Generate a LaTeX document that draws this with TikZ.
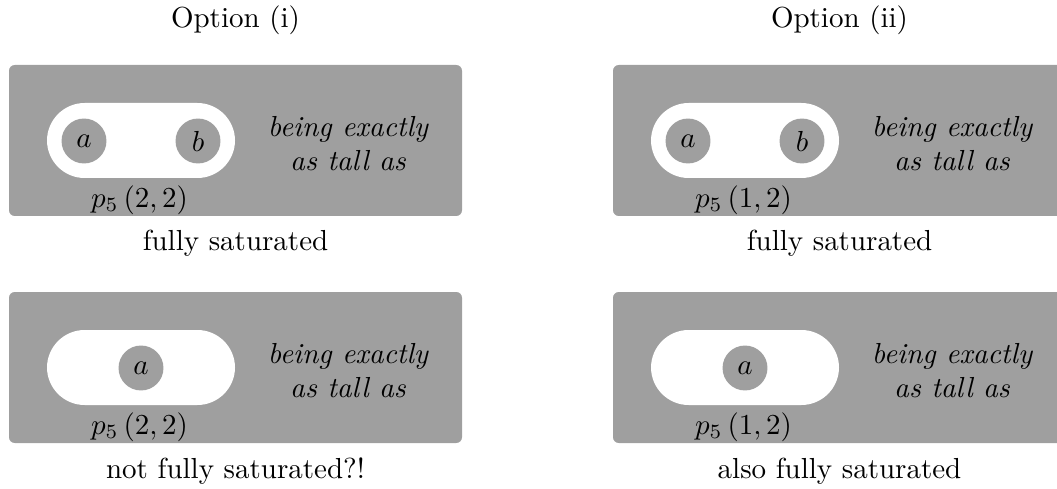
\documentclass[tikz,border=0pt]{standalone}
\usepackage{amsmath,amssymb}
\tikzset{panel/.style={fill=gray!75, rounded corners=2pt}}
\tikzset{pill/.style={fill=white, rounded corners=13pt}}
\tikzset{elem/.style={circle, fill=gray!75, inner sep=0pt, minimum size=15.5pt}}
\tikzset{relation/.style={align=center, font=\itshape}}

\begin{document}
\begin{tikzpicture}[x=0.345pt, y=-0.345pt]
      \useasboundingbox (0, 0) rectangle (1057, 488);
      \clip (0, 0) rectangle (1057, 488);

      \node (opt1) at (235.5, 20) {Option (i)};
      \node (opt2) at (839.5, 20) {Option (ii)};

      % top left
      \begin{scope}[shift={(9, 65)}]
        \fill[panel] (0, 0) rectangle (453, 151);
        \fill[pill] (38, 38) rectangle (226, 113);
        \node[elem] (a1) at (75, 76) {$a$};
        \node[elem] (b1) at (189, 76) {$b$};
        \node[relation] (r1) at (339, 78.5) {being exactly\\as tall as};
        \node (p1) at (130.5, 135) {$p_5\,(2,2)$};
      \end{scope}

      % top right
      \begin{scope}[shift={(613, 65)}]
        \fill[panel] (0, 0) rectangle (453, 151);
        \fill[pill] (38, 38) rectangle (226, 113);
        \node[elem] (a2) at (75, 76) {$a$};
        \node[elem] (b2) at (189, 76) {$b$};
        \node[relation] (r2) at (339, 78.5) {being exactly\\as tall as};
        \node (p2) at (130.5, 135) {$p_5\,(1,2)$};
      \end{scope}

      % bottom left
      \begin{scope}[shift={(9, 292)}]
        \fill[panel] (0, 0) rectangle (453, 151);
        \fill[pill] (38, 38) rectangle (226, 113);
        \node[elem] (a3) at (132, 76) {$a$};
        \node[relation] (r3) at (339, 78.5) {being exactly\\as tall as};
        \node (p3) at (130.5, 135) {$p_5\,(2,2)$};
      \end{scope}

      % bottom right
      \begin{scope}[shift={(613, 292)}]
        \fill[panel] (0, 0) rectangle (453, 151);
        \fill[pill] (38, 38) rectangle (226, 113);
        \node[elem] (a4) at (132, 76) {$a$};
        \node[relation] (r4) at (339, 78.5) {being exactly\\as tall as};
        \node (p4) at (130.5, 135) {$p_5\,(1,2)$};
      \end{scope}

      \node (c1) at (235.5, 243) {fully saturated};
      \node (c2) at (839.5, 243) {fully saturated};
      \node (c3) at (235.5, 471) {not fully saturated?!};
      \node (c4) at (839.5, 471) {also fully saturated};
    \end{tikzpicture}
\end{document}
